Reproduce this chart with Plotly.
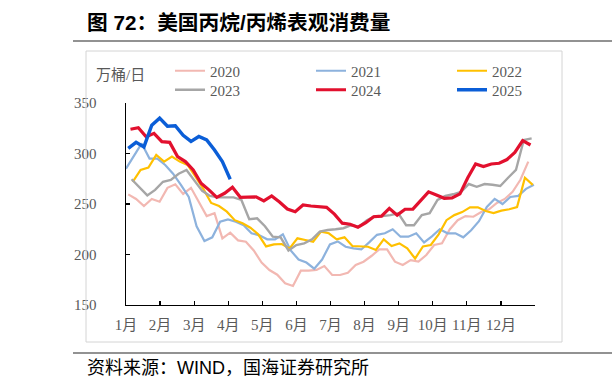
import datetime as dt
import plotly.graph_objects as go

# ---------------- data ----------------
years = ["2020", "2021", "2022", "2023", "2024", "2025"]
start_dates = {
    "2020": dt.date(2020, 1, 3),
    "2021": dt.date(2021, 1, 1),
    "2022": dt.date(2022, 1, 7),
    "2023": dt.date(2023, 1, 6),
    "2024": dt.date(2024, 1, 5),
    "2025": dt.date(2025, 1, 3),
}

y2020 = [259.5, 255, 248, 255, 252.3, 266, 269.5, 260, 266, 252.3,
         238, 240.8, 216, 221.6, 214, 212.7, 204, 192, 184.6, 180,
         171.5, 168.8, 184, 184, 184.7, 188.6, 179.7, 179.7, 182, 189.6,
         192.9, 198.5, 205, 205, 192.9, 189.6, 194.5, 192.9, 199.5, 209.4,
         211, 225, 234, 238, 237.4, 242, 244.8, 251, 255, 262,
         274, 292]
y2021 = [285, 297, 310, 295, 295, 288.6, 280, 269, 257, 228,
         213.4, 217, 232.5, 234.8, 232.5, 229, 221, 219, 215, 215,
         220, 204, 195, 192, 186, 195, 210, 213, 207.7, 206,
         205, 212, 219.5, 221, 225, 217.6, 217.6, 221, 212, 218,
         225, 221, 221, 217, 224, 233, 247, 255, 250, 257,
         258, 265, 269]
y2022 = [272, 283.7, 286, 298.5, 292, 297, 292, 288.6, 277, 265,
         251, 248, 242.4, 234, 231, 226.5, 220, 208, 210, 210.4,
         206, 216, 214.4, 212.7, 222.6, 221, 215, 217, 208.4, 207.7,
         207.7, 204.5, 215, 208.4, 211, 206, 196, 208, 209.4, 220,
         234, 239, 242, 246.7, 246.7, 243, 241, 243.4, 244.8, 247,
         276, 269]
y2023 = [274.5, 267, 258.5, 264, 272, 273.8, 280, 283.7, 273, 263,
         258, 256.6, 256.6, 256.6, 254, 235, 235.8, 228, 217.6, 217,
         204, 209.4, 211, 215, 222.6, 224.3, 225, 226, 229, 227.5,
         234, 238, 238, 239, 240.8, 229, 229, 239, 241, 254,
         258, 259.6, 262, 269.8, 267, 269.8, 269, 267.8, 276, 283.7,
         313.4, 315]
y2024 = [324, 325.5, 316.6, 320, 311.7, 311, 297, 292, 283.7, 270.5,
         264, 256.6, 260.6, 266.5, 256.6, 257, 257, 253, 258, 252,
         245, 242.4, 249, 248, 247.5, 246.7, 240, 231, 230, 227,
         231.5, 237.4, 238, 245.7, 239, 244.8, 245, 254, 262, 259,
         255.6, 256, 260, 276, 289.6, 287, 289.6, 290.3, 294, 301,
         312.7, 308.4]
y2025 = [305, 311, 306.5, 328, 335, 327, 327.5, 318, 312, 316.8,
         313.4, 303.5, 292, 274.5]

series = {"2020": y2020, "2021": y2021, "2022": y2022,
          "2023": y2023, "2024": y2024, "2025": y2025}

month_labels = ["1月", "2月", "3月", "4月", "5月", "6月",
                "7月", "8月", "9月", "10月", "11月", "12月"]
y_ticks = [150, 200, 250, 300, 350]

title_text = "图 72：美国丙烷/丙烯表观消费量"
unit_text = "万桶/日"
source_text = "资料来源：WIND，国海证券研究所"

# ---------------- style ----------------
colors = {"2020": "#F2B8B2", "2021": "#8DB2DD", "2022": "#FFC000",
          "2023": "#A6A6A6", "2024": "#E2102E", "2025": "#0B5ED7"}
widths = {"2020": 2.2, "2021": 2.2, "2022": 2.2, "2023": 2.4,
          "2024": 3.2, "2025": 3.4}
legend_of = {"2020": "legend", "2021": "legend", "2022": "legend",
             "2023": "legend2", "2024": "legend2", "2025": "legend2"}

W, H = 612, 392
def px(x):
    return x / W
def py(y):
    return 1 - y / H

SERIF = "Liberation Serif, 'Times New Roman', 'Noto Sans CJK SC', serif"
SANS = "Liberation Sans, 'Noto Sans CJK SC', sans-serif"
GREY = "#595959"

fig = go.Figure()
for yr in years:
    vals = series[yr]
    s = start_dates[yr]
    jan1 = dt.date(int(yr), 1, 1)
    xs = [(s - jan1).days + 7 * i for i in range(len(vals))]
    fig.add_trace(go.Scatter(
        x=xs, y=vals, mode="lines", name=yr,
        line=dict(color=colors[yr], width=widths[yr]),
        legend=legend_of[yr], hoverinfo="skip"))

legend_common = dict(orientation="h", xanchor="left", yanchor="middle",
                     entrywidth=96, entrywidthmode="pixels", itemwidth=30,
                     font=dict(family=SERIF, size=15, color=GREY),
                     bgcolor="rgba(0,0,0,0)", borderwidth=0,
                     tracegroupgap=0, itemclick=False)

fig.update_layout(
    width=W, height=H,
    margin=dict(l=0, r=0, t=0, b=0, autoexpand=False),
    paper_bgcolor="white", plot_bgcolor="white",
    showlegend=True,
    legend=dict(x=px(170), y=py(71), **legend_common),
    legend2=dict(x=px(170), y=py(90), **legend_common),
    xaxis=dict(range=[0, 365], domain=[px(126), px(535)],
               automargin=False,
               tickmode="array",
               tickvals=[i * 365 / 12 for i in range(12)],
               ticktext=month_labels,
               ticks="inside", ticklen=4, tickwidth=1.2, tickcolor="black",
               showline=True, linecolor="black", linewidth=1.4,
               showgrid=False, zeroline=False,
               tickfont=dict(family=SERIF, size=15, color=GREY),
               ticklabelstandoff=6, fixedrange=True),
    yaxis=dict(range=[150, 350], domain=[py(305), py(103)],
               automargin=False,
               tickmode="array", tickvals=y_ticks,
               ticks="inside", ticklen=4, tickwidth=1.2, tickcolor="black",
               showline=True, linecolor="black", linewidth=1.4,
               showgrid=False, zeroline=False,
               tickfont=dict(family=SERIF, size=15, color=GREY),
               ticklabelstandoff=25, fixedrange=True),
)

shapes = [
    dict(type="line", xref="paper", yref="paper", x0=px(73), x1=1.0,
         y0=py(41), y1=py(41), line=dict(color="#6E6E6E", width=1.6)),
    dict(type="line", xref="paper", yref="paper", x0=px(73), x1=1.0,
         y0=py(353), y1=py(353), line=dict(color="#6E6E6E", width=1.6)),
    dict(type="rect", xref="paper", yref="paper", x0=px(86), x1=px(562),
         y0=py(342), y1=py(51), line=dict(color="#D4D4D4", width=1)),
]
fig.update_layout(shapes=shapes)

fig.add_annotation(text="<b>" + title_text + "</b>", xref="paper", yref="paper",
                   x=px(85), y=py(22), xanchor="left", yanchor="middle",
                   showarrow=False,
                   font=dict(family=SANS, size=20.7, color="black"))
fig.add_annotation(text=unit_text, xref="paper", yref="paper",
                   x=px(94), y=py(75), xanchor="left", yanchor="middle",
                   showarrow=False,
                   font=dict(family=SERIF, size=15, color=GREY))
fig.add_annotation(text=source_text, xref="paper", yref="paper",
                   x=px(85), y=py(368), xanchor="left", yanchor="middle",
                   showarrow=False,
                   font=dict(family=SANS, size=18, color="black"))

fig.write_html("out.html",
               config={"displayModeBar": False, "staticPlot": True},
               post_script="document.body.style.margin='0';"
                           "document.body.style.overflow='hidden';")
